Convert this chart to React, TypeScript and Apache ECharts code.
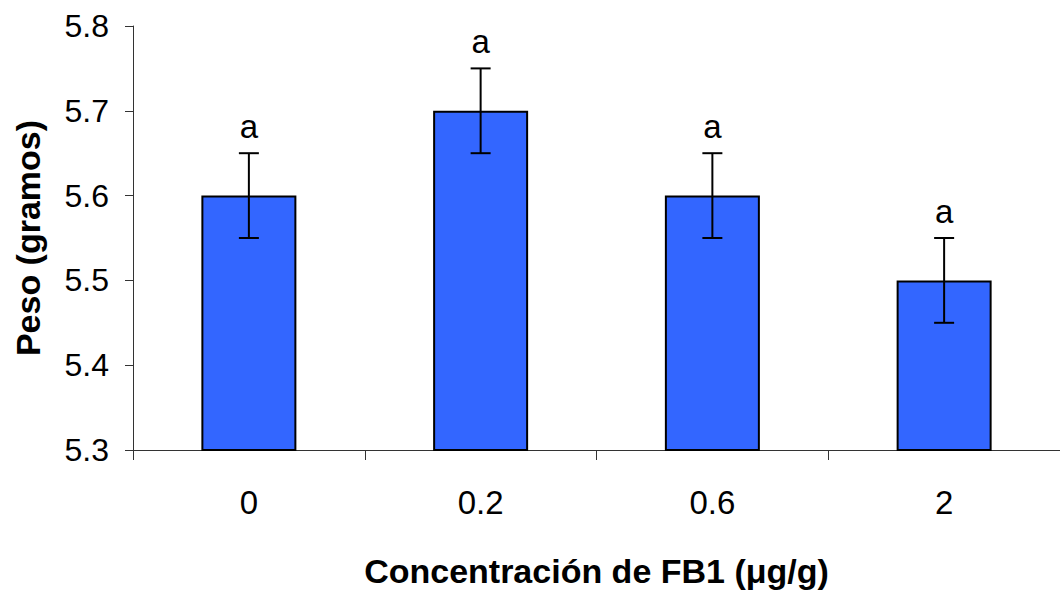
import React, { useEffect, useRef } from "react";
import * as echarts from "echarts";

const categories = ["0", "0.2", "0.6", "2"];
const means = [5.6, 5.7, 5.6, 5.5];
const errors = [0.05, 0.05, 0.05, 0.05];
const letters = ["a", "a", "a", "a"];
const yTicks = { min: 5.3, max: 5.8, interval: 0.1 };

const FONT = "'Liberation Sans', Arial, sans-serif";

export default function App() {
  const ref = useRef<HTMLDivElement>(null);
  useEffect(() => {
    document.body.style.margin = "0";
    const chart = echarts.init(ref.current!, null, { renderer: "svg" });
    const errData = means.map((m, i) => [i, m - errors[i], m + errors[i]]);
    chart.setOption({
      animation: false,
      backgroundColor: "#ffffff",
      grid: { left: 133, right: -6, top: 26, bottom: 146 },
      xAxis: {
        type: "category",
        data: categories,
        axisLine: { show: true, lineStyle: { color: "#333", width: 1 } },
        axisTick: { show: true, length: 10, inside: false, lineStyle: { color: "#333" } },
        axisLabel: { color: "#000", fontSize: 33, fontFamily: FONT, margin: 36 },
        name: "Concentración de FB1 (μg/g)",
        nameLocation: "middle",
        nameGap: 104,
        nameTextStyle: { color: "#000", fontSize: 34, fontWeight: "bold", fontFamily: FONT },
      },
      yAxis: {
        type: "value",
        min: yTicks.min,
        max: yTicks.max,
        interval: yTicks.interval,
        splitLine: { show: false },
        axisLine: { show: true, lineStyle: { color: "#333", width: 1 } },
        axisTick: { show: true, length: 8, lineStyle: { color: "#333" } },
        axisLabel: {
          color: "#000",
          fontSize: 32,
          fontFamily: FONT,
          margin: 24,
          formatter: (v: number) => v.toFixed(1),
        },
        name: "Peso (gramos)",
        nameLocation: "middle",
        nameRotate: 90,
        nameGap: 88,
        nameTextStyle: { color: "#000", fontSize: 34, fontWeight: "bold", fontFamily: FONT },
      },
      series: [
        {
          type: "bar",
          data: means,
          barWidth: 95,
          itemStyle: { color: "#3366FF", borderColor: "#000", borderWidth: 2 },
        },
        {
          type: "custom",
          data: errData,
          z: 10,
          renderItem: (params: any, api: any) => {
            const x = api.coord([api.value(0), api.value(1)])[0];
            const lo = api.coord([api.value(0), api.value(1)])[1];
            const hi = api.coord([api.value(0), api.value(2)])[1];
            const half = 10;
            const st = { stroke: "#000", lineWidth: 2 };
            return {
              type: "group",
              children: [
                { type: "line", shape: { x1: x, y1: lo, x2: x, y2: hi }, style: st },
                { type: "line", shape: { x1: x - half, y1: lo, x2: x + half, y2: lo }, style: st },
                { type: "line", shape: { x1: x - half, y1: hi, x2: x + half, y2: hi }, style: st },
                {
                  type: "text",
                  x: x,
                  y: hi - 10,
                  style: {
                    text: letters[params.dataIndex],
                    fill: "#000",
                    fontSize: 33,
                    fontFamily: FONT,
                    align: "center",
                    verticalAlign: "bottom",
                  },
                },
              ],
            };
          },
        },
      ],
    });
    return () => chart.dispose();
  }, []);
  return <div ref={ref} style={{ width: 1060, height: 596 }} />;
}
